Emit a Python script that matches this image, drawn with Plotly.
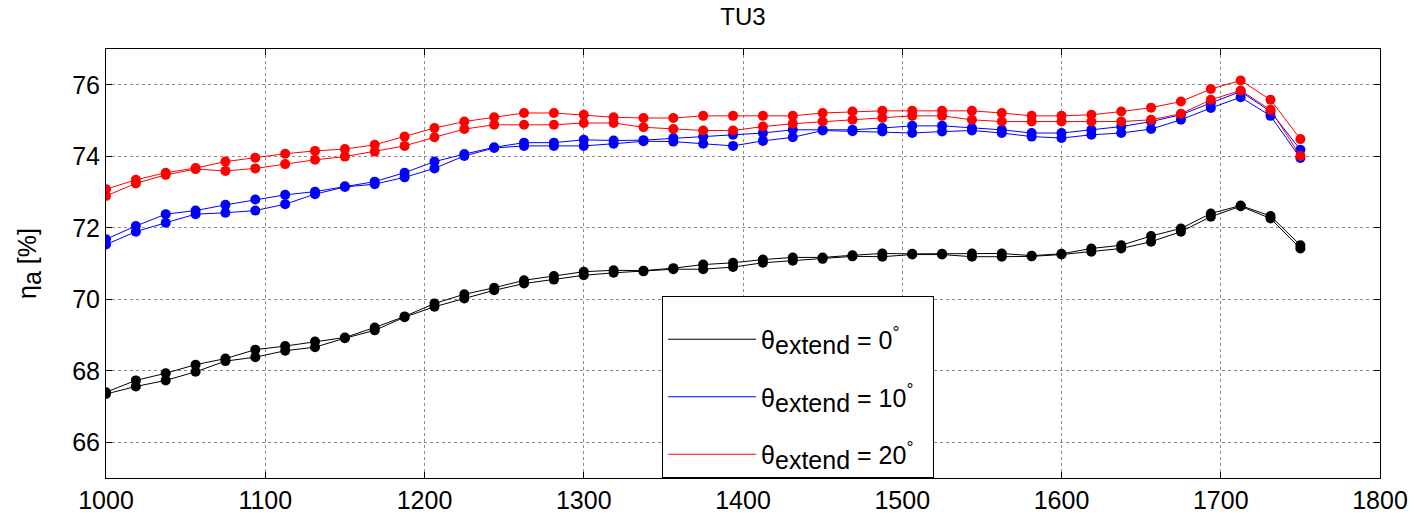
import plotly.graph_objects as go

speed = [1000, 1018.75, 1037.5, 1056.25, 1075, 1093.75, 1112.5, 1131.25, 1150, 1168.75,
         1187.5, 1206.25, 1225, 1243.75, 1262.5, 1281.25, 1300, 1318.75, 1337.5, 1356.25,
         1375, 1393.75, 1412.5, 1431.25, 1450, 1468.75, 1487.5, 1506.25, 1525, 1543.75,
         1562.5, 1581.25, 1600, 1618.75, 1637.5, 1656.25, 1675, 1693.75, 1712.5, 1731.25, 1750]

eta_0_a = [67.40, 67.73, 67.93, 68.17, 68.34, 68.59, 68.69, 68.82, 68.93, 69.21,
           69.52, 69.88, 70.14, 70.32, 70.53, 70.65, 70.77, 70.81, 70.80, 70.87,
           70.97, 71.02, 71.11, 71.17, 71.17, 71.23, 71.28, 71.27, 71.27, 71.28,
           71.28, 71.22, 71.27, 71.42, 71.51, 71.77, 71.98, 72.40, 72.62, 72.33, 71.51]
eta_0_b = [67.35, 67.56, 67.73, 67.97, 68.27, 68.38, 68.56, 68.66, 68.91, 69.13,
           69.50, 69.79, 70.02, 70.25, 70.44, 70.55, 70.67, 70.74, 70.78, 70.84,
           70.84, 70.90, 71.02, 71.08, 71.13, 71.20, 71.19, 71.25, 71.25, 71.19,
           71.19, 71.20, 71.25, 71.33, 71.42, 71.61, 71.89, 72.31, 72.60, 72.26, 71.42]

eta_10_a = [71.68, 72.05, 72.38, 72.48, 72.64, 72.79, 72.92, 73.01, 73.16, 73.29,
            73.54, 73.85, 74.06, 74.25, 74.38, 74.38, 74.46, 74.44, 74.45, 74.51,
            74.55, 74.60, 74.65, 74.74, 74.74, 74.74, 74.79, 74.85, 74.85, 74.79,
            74.74, 74.65, 74.65, 74.74, 74.83, 74.97, 75.16, 75.49, 75.81, 75.25, 74.18]
eta_10_b = [71.53, 71.89, 72.14, 72.38, 72.42, 72.48, 72.66, 72.94, 73.14, 73.22,
            73.41, 73.66, 74.01, 74.23, 74.29, 74.29, 74.29, 74.35, 74.42, 74.41,
            74.35, 74.29, 74.43, 74.53, 74.72, 74.70, 74.69, 74.65, 74.69, 74.72,
            74.65, 74.55, 74.51, 74.60, 74.65, 74.76, 75.02, 75.35, 75.65, 75.13, 73.95]

eta_20_a = [73.08, 73.34, 73.54, 73.67, 73.85, 73.96, 74.07, 74.15, 74.20, 74.32,
            74.55, 74.79, 74.97, 75.09, 75.21, 75.21, 75.16, 75.09, 75.07, 75.07,
            75.13, 75.13, 75.13, 75.13, 75.21, 75.25, 75.27, 75.27, 75.27, 75.27,
            75.21, 75.13, 75.13, 75.16, 75.25, 75.36, 75.53, 75.88, 76.12, 75.58, 74.48]
eta_20_b = [72.89, 73.24, 73.48, 73.64, 73.59, 73.66, 73.78, 73.90, 73.99, 74.13,
            74.29, 74.53, 74.76, 74.88, 74.88, 74.88, 74.93, 74.93, 74.81, 74.76,
            74.72, 74.72, 74.83, 74.91, 74.97, 75.02, 75.07, 75.13, 75.13, 75.02,
            74.97, 74.97, 74.97, 74.97, 74.97, 75.02, 75.19, 75.58, 75.84, 75.30, 74.01]

SUB = "<sub><span style='font-size:25px'>{}</span></sub>"
legend_names = ["θ" + SUB.format("extend") + " = 0<sup>°</sup>  ",
                "θ" + SUB.format("extend") + " = 10<sup>°</sup>  ",
                "θ" + SUB.format("extend") + " = 20<sup>°</sup>  "]
colors = ["#000000", "#0000ff", "#ff0000"]
groups = [(eta_0_a, eta_0_b), (eta_10_a, eta_10_b), (eta_20_a, eta_20_b)]

fig = go.Figure()
for (ya, yb), col in zip(groups, colors):
    for y in (ya, yb):
        fig.add_trace(go.Scatter(x=speed, y=y, mode="lines+markers",
                                 line=dict(color=col, width=1),
                                 marker=dict(color=col, size=10),
                                 showlegend=False, hoverinfo="skip"))

for name, col, g in zip(legend_names, colors, ["g0", "g1", "g2"]):
    fig.add_trace(go.Scatter(x=[None], y=[None], mode="lines", name=name,
                             legendgroup=g, line=dict(color=col, width=1)))

axis_common = dict(showline=True, linecolor="black", linewidth=1, mirror="ticks",
                   ticks="inside", ticklen=6, tickcolor="black", automargin=False,
                   showgrid=True, gridcolor="rgba(0,0,0,0.45)", griddash="dot", gridwidth=1,
                   zeroline=False, tickfont=dict(size=25, color="black"))

fig.update_xaxes(range=[1000, 1800], tickvals=[1000, 1100, 1200, 1300, 1400, 1500, 1600, 1700, 1800],
                 **axis_common)
fig.update_yaxes(range=[65, 77], tickvals=[66, 68, 70, 72, 74, 76],
                 title=dict(text="η" + SUB.format("a") + " [%]",
                            font=dict(size=25, color="black"), standoff=28),
                 **axis_common)

fig.update_layout(
    width=1416, height=518,
    margin=dict(l=106, r=36, t=49, b=40),
    paper_bgcolor="white", plot_bgcolor="white",
    font=dict(family="Liberation Sans, Arial, sans-serif", color="black"),
    title=dict(text="TU3", x=0.5, xref="paper", y=0.967, yanchor="middle",
               font=dict(size=24, color="black")),
    legend=dict(x=0.4365, y=0, xanchor="left", yanchor="bottom",
                bgcolor="white", bordercolor="black", borderwidth=1,
                font=dict(size=25, color="black"), itemwidth=88,
                tracegroupgap=22,
                title=dict(text=" ", font=dict(size=15))),
)

fig.write_html("out.html")
